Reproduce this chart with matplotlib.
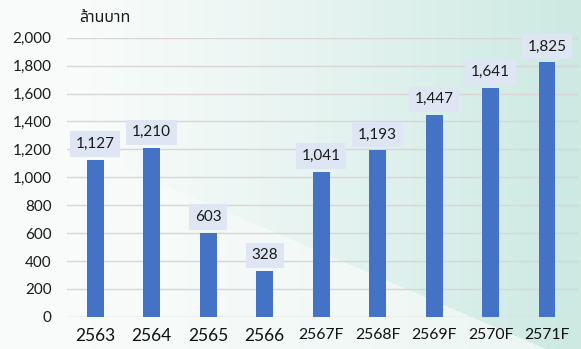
import numpy as np
import matplotlib
matplotlib.use('Agg')
import matplotlib.pyplot as plt
from matplotlib.colors import to_rgb

# ── DATA ────────────────────────────────────────────────────────
years  = ['2563', '2564', '2565', '2566', '2567F', '2568F', '2569F', '2570F', '2571F']
values = [1127, 1210, 603, 328, 1041, 1193, 1447, 1641, 1825]
yticks = [0, 200, 400, 600, 800, 1000, 1200, 1400, 1600, 1800, 2000]
unit   = 'ล้านบาท'

plt.rcParams['font.family'] = ['Lato', 'Noto Sans Thai', 'DejaVu Sans']

W, H = 581, 349
fig = plt.figure(figsize=(W / 100, H / 100), dpi=100)

# ── background: white on the left, pale teal to the right ───────
bg = fig.add_axes([0, 0, 1, 1], zorder=-10)
px, py = np.meshgrid(np.arange(W), np.arange(H))      # py = 0 at top
t = np.clip((px - 90) / (W - 90), 0, 1) ** 1.15
# lighter wedge in the lower part, below a diagonal edge
below = py > 243 + 0.43 * (px - 300)
t = np.where(below & (px < 565), t * 0.3, t)
c0 = np.array(to_rgb('#f8fbfa'))
c1 = np.array(to_rgb('#cce9e2'))
img = c0 + (c1 - c0) * t[..., None]
bg.imshow(img, aspect='auto', extent=[0, 1, 0, 1], origin='upper')
bg.axis('off')

# ── bars ────────────────────────────────────────────────────────
ax = fig.add_axes([0.115, 0.092, 0.88, 0.8])
ax.patch.set_alpha(0)
x = np.arange(len(years))
ax.bar(x, values, width=0.3, color='#4472c4', zorder=3)

for xi, v in zip(x, values):
    ax.text(xi, v + 62, f'{v:,}', ha='center', va='bottom', fontsize=11,
            color='#1a1a1a', zorder=4,
            bbox=dict(boxstyle='square,pad=0.37', fc='#dde6f2', ec='none'))

ax.set_ylim(0, 2000)
ax.set_xlim(-0.5, len(years) - 0.45)
ax.set_yticks(yticks)
ax.set_yticklabels([f'{t:,}' for t in yticks], fontsize=11, color='#1a1a1a')
ax.set_xticks(x)
ax.set_xticklabels(years, color='#111111')
for i, lab in enumerate(ax.get_xticklabels()):
    lab.set_fontsize(12.5 if i < 4 else 11.3)
ax.tick_params(axis='y', length=0, pad=11)
ax.tick_params(axis='x', length=0, pad=8)
ax.grid(axis='y', color='#d9d5d5', linewidth=1, zorder=0)
for s in ax.spines.values():
    s.set_visible(False)

fig.text(0.137, 0.947, unit, fontsize=11.5, color='#1a1a1a',
         family=['Noto Sans Thai', 'DejaVu Sans'], ha='left', va='center')

plt.savefig('out.png', dpi=100)
plt.close()
